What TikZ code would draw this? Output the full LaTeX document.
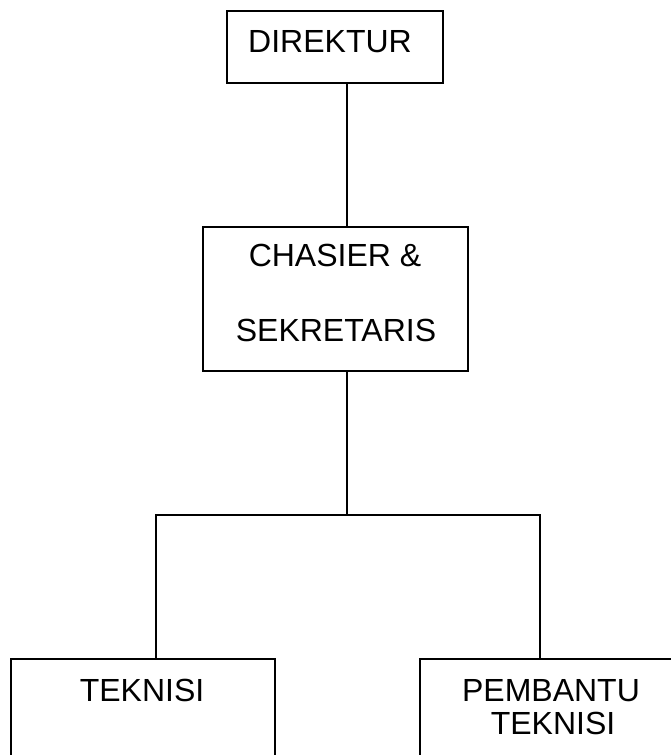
\documentclass[tikz,border=0pt]{standalone}
\usepackage{fontspec}
\setmainfont{Liberation Sans}
\begin{document}
\begin{tikzpicture}[x=1pt,y=1pt,
  box/.style={draw=black,line width=1.5pt,rectangle,inner sep=0pt,fill=none},
  lbl/.style={anchor=base,inner sep=0pt,font=\fontsize{32}{38}\selectfont},
  conn/.style={draw=black,line width=1.5pt}]
\useasboundingbox (0,0) rectangle (671,755);
\clip (0,0) rectangle (671,755);
% boxes
\node[box,minimum width=216pt,minimum height=72pt] (dir) at (335,708) {};
\node[box,minimum width=265pt,minimum height=144pt] (chas) at (335.5,456) {};
\node[box,minimum width=264pt,minimum height=136pt] (tek) at (143,28) {};
\node[box,minimum width=300pt,minimum height=136pt] (pem) at (570,28) {};
% texts
\node[lbl] (tdir) at (330,702) {DIREKTUR};
\node[lbl] (tchas1) at (335,488) {CHASIER \&};
\node[lbl] (tchas2) at (336,413) {SEKRETARIS};
\node[lbl] (ttek) at (142,53) {TEKNISI};
\node[lbl] (tpem1) at (551,53) {PEMBANTU};
\node[lbl] (tpem2) at (553,20) {TEKNISI};
% connector coordinates
\coordinate (v) at (347,0);
\coordinate (j) at (347,240);
\coordinate (lx) at (156,0);
\coordinate (rx) at (540,0);
% connectors
\draw[conn] (dir.south -| v) -- (chas.north -| v);
\draw[conn] (chas.south -| v) -- (j);
\draw[conn] (tek.north -| lx) -- (lx |- j) -- (rx |- j) -- (pem.north -| rx);
\end{tikzpicture}
\end{document}
